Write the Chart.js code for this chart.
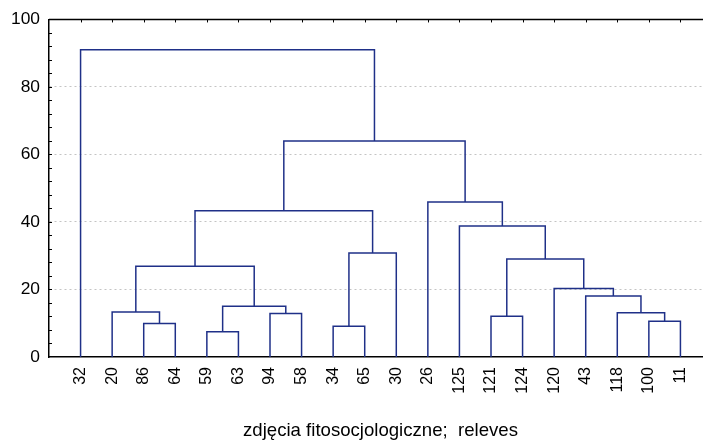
<!DOCTYPE html>
<html>
<head>
<meta charset="utf-8">
<script src="https://cdn.jsdelivr.net/npm/chart.js@4/dist/chart.umd.min.js"></script>
<style>
  html, body { margin: 0; padding: 0; background: #fff; overflow: hidden; }
</style>
</head>
<body>
<canvas id="chart" width="716" height="440"></canvas>
<script>
// Leaves in dendrogram order
const leaves = ["32","20","86","64","59","63","94","58","34","65","30","26","125","121","124","120","43","118","100","11"];

// Merges: children are leaf labels or earlier merges ("m<index>")
const mergeLeft   = ["86","20","59","94","m2","m1","34","m6","m5","121","100","118","43","120","m9","125","26","m8","32"];
const mergeRight  = ["64","m0","63","58","m3","m4","65","30","m7","124","11","m10","m11","m12","m13","m14","m15","m16","m17"];
const mergeHeight = [9.9, 13.3, 7.5, 12.9, 15.0, 26.9, 9.1, 30.8, 43.3, 12.1, 10.6, 13.1, 18.1, 20.3, 29.0, 38.8, 45.9, 64.0, 91.0];

const yTicks = [0, 20, 40, 60, 80, 100];

const lineColor = "#1f3088";
const fontFamily = "'Liberation Sans', Arial, sans-serif";

// Work out node positions from the merge list
const nodes = {};
leaves.forEach((l, i) => { nodes[l] = { x: i + 1, y: 0 }; });
const datasets = [];
mergeHeight.forEach((h, i) => {
  const a = nodes[mergeLeft[i]];
  const b = nodes[mergeRight[i]];
  nodes["m" + i] = { x: (a.x + b.x) / 2, y: h };
  datasets.push({
    data: [{ x: a.x, y: a.y }, { x: a.x, y: h }, { x: b.x, y: h }, { x: b.x, y: b.y }],
    showLine: true,
    borderColor: lineColor,
    borderWidth: 1.5,
    pointRadius: 0,
    tension: 0
  });
});

// Frame: top border and inward ticks
const framePlugin = {
  id: "frame",
  afterDraw(chart) {
    const ctx = chart.ctx;
    const area = chart.chartArea;
    const xs = chart.scales.x;
    const ys = chart.scales.y;
    ctx.save();
    ctx.strokeStyle = "#000";
    ctx.lineWidth = 1.5;
    ctx.beginPath();
    ctx.moveTo(area.left, area.top);
    ctx.lineTo(area.right, area.top);
    ctx.stroke();
    ctx.lineWidth = 1;
    ctx.beginPath();
    leaves.forEach((l, i) => {
      const px = Math.round(xs.getPixelForValue(i + 1)) + 0.5;
      ctx.moveTo(px, area.top);
      ctx.lineTo(px, area.top + 3);
    });
    for (let v = 4; v < 100; v += 4) {
      const py = Math.round(ys.getPixelForValue(v)) + 0.5;
      ctx.moveTo(area.left, py);
      ctx.lineTo(area.left + 3, py);
    }
    ctx.stroke();
    ctx.restore();
  }
};

new Chart(document.getElementById("chart"), {
  type: "scatter",
  data: { datasets },
  options: {
    responsive: false,
    animation: false,
    layout: { padding: { top: 18, right: 4, left: 0, bottom: 0 } },
    plugins: { legend: { display: false }, tooltip: { enabled: false } },
    scales: {
      x: {
        type: "linear",
        min: 0,
        max: leaves.length + 1,
        afterBuildTicks(scale) {
          scale.ticks = leaves.map((l, i) => ({ value: i + 1 }));
        },
        afterFit(scale) { scale.height = 83; },
        ticks: {
          autoSkip: false,
          minRotation: 90,
          maxRotation: 90,
          padding: 10,
          color: "#000",
          font: { family: fontFamily, size: 16 },
          callback: (v) => leaves[Math.round(v) - 1] || ""
        },
        grid: { display: false, drawTicks: false },
        border: { display: true, color: "#000", width: 1.5 },
        title: {
          display: true,
          text: "zdjęcia fitosocjologiczne;  releves",
          color: "#000",
          font: { family: fontFamily, size: 18.6 },
          padding: { top: 0, bottom: -2 }
        }
      },
      y: {
        min: 0,
        max: 100,
        afterBuildTicks(scale) {
          scale.ticks = yTicks.map(v => ({ value: v }));
        },
        afterFit(scale) { scale.width = 49; },
        ticks: {
          padding: 9,
          color: "#000",
          font: { family: fontFamily, size: 17.4 }
        },
        grid: {
          drawTicks: false,
          color: (c) => (c.tick.value === 0 || c.tick.value === 100) ? "rgba(0,0,0,0)" : "#c4c4c4",
          lineWidth: 1
        },
        border: { display: true, color: "#000", width: 1.5, dash: [2, 3] }
      }
    }
  },
  plugins: [framePlugin]
});
</script>
</body>
</html>
